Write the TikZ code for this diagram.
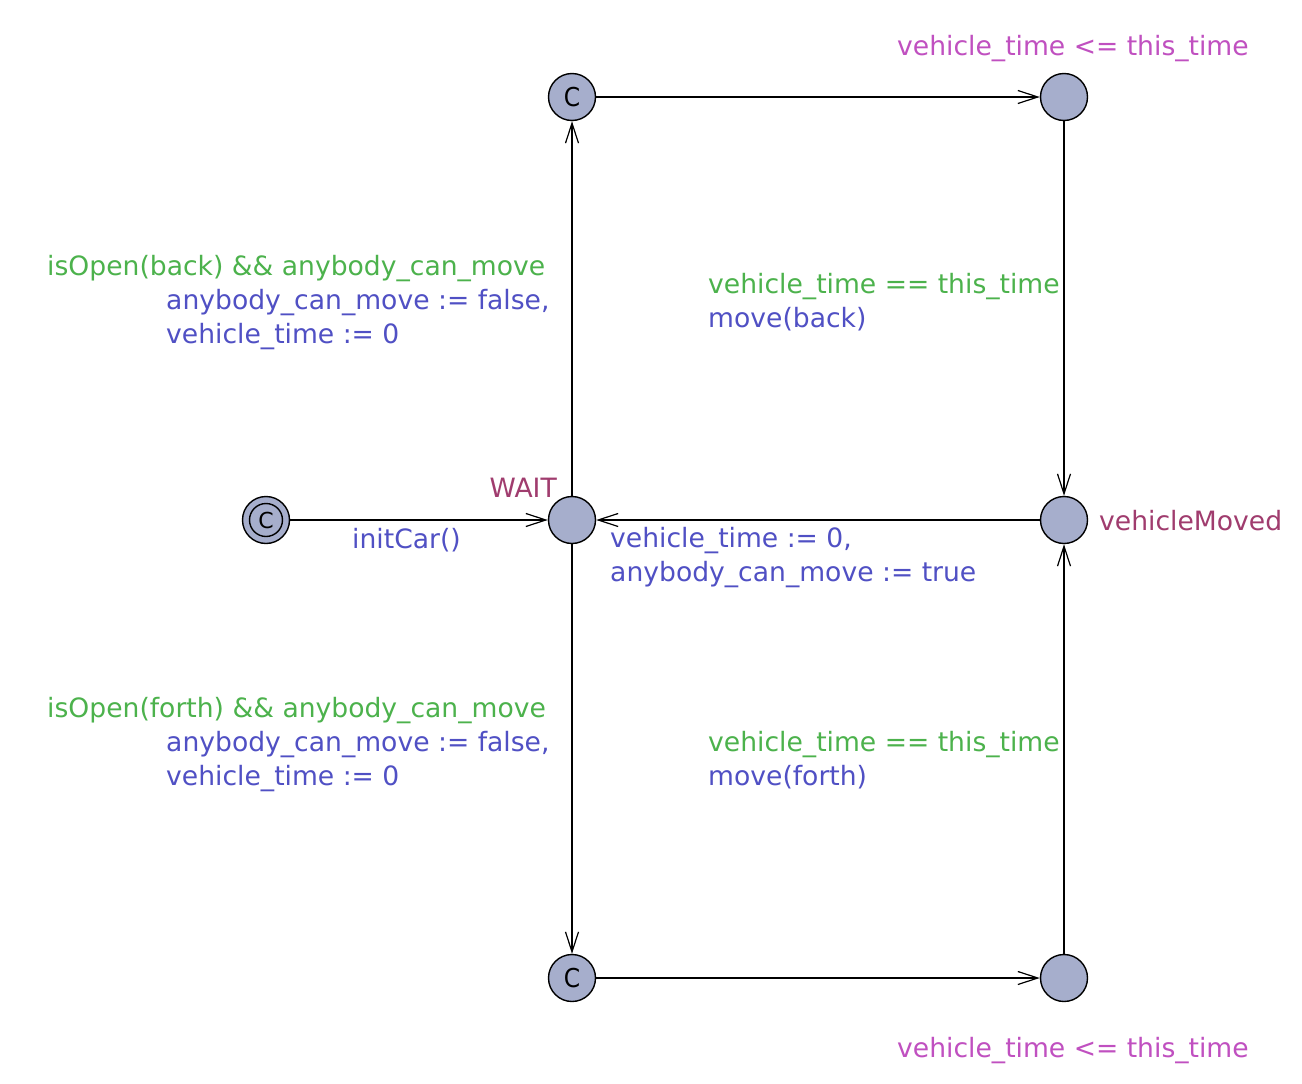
\documentclass[tikz,border=0pt]{standalone}
\usepackage{fontspec}
\setmainfont{DejaVu Sans}
\usetikzlibrary{arrows.meta}
\definecolor{guardc}{RGB}{76,178,76}
\definecolor{assignc}{RGB}{80,80,196}
\definecolor{invc}{RGB}{192,80,192}
\definecolor{namec}{RGB}{160,60,110}
\definecolor{locfill}{RGB}{166,174,204}
\tikzset{
  loc/.style={circle,draw=black,fill=locfill,line width=1.4pt,minimum size=47pt,inner sep=0pt},
  edge/.style={draw=black,line width=1.4pt,-{Straight Barb[length=20pt,width=13pt,line width=1.2pt]}},
  lbl/.style={anchor=mid west,inner sep=0pt,font=\fontsize{26.6}{30}\selectfont},
  guard/.style={lbl,text=guardc},
  assign/.style={lbl,text=assignc},
  inv/.style={lbl,text=invc},
  lname/.style={lbl,text=namec},
  cfont/.style={font=\fontsize{26}{26}\selectfont\addfontfeatures{FakeStretch=0.9}}
}
\begin{document}
\begin{tikzpicture}[x=1pt,y=-1pt]
\useasboundingbox[fill=white] (0,0) rectangle (1302,1084);
\node[loc] (init) at (266,520) {};
\node[circle,draw=black,line width=1.4pt,minimum size=33pt,inner sep=0pt,font=\fontsize{22}{22}\selectfont] (initc) at (266,520) {C};
\node[loc] (wait) at (572,520) {};
\node[loc,cfont] (ctop) at (572,97) {C};
\node[loc] (tr) at (1064,97) {};
\node[loc] (vm) at (1064,520) {};
\node[loc,cfont] (cbot) at (572,978) {C};
\node[loc] (br) at (1064,978) {};

\draw[edge] (init) -- (wait);
\draw[edge] (wait) -- (ctop);
\draw[edge] (ctop) -- (tr);
\draw[edge] (tr) -- (vm);
\draw[edge] (vm) -- (wait);
\draw[edge] (wait) -- (cbot);
\draw[edge] (cbot) -- (br);
\draw[edge] (br) -- (vm);

\node[inv] (inv1) at (897,53) {vehicle\_time <= this\_time};
\node[inv] (inv2) at (897,1055) {vehicle\_time <= this\_time};
\node[lname,anchor=mid east] (waitname) at (557,495) {WAIT};
\node[lname] (vmname) at (1099,528) {vehicleMoved};

\node[guard] (g1) at (47,273) {isOpen(back) \&\& anybody\_can\_move};
\node[assign] (a1a) at (166,307) {anybody\_can\_move := false,};
\node[assign] (a1b) at (166,341) {vehicle\_time := 0};
\node[guard] (g2) at (708,291) {vehicle\_time == this\_time};
\node[assign] (a2) at (708,325) {move(back)};
\node[assign] (a3) at (352,546) {initCar()};
\node[assign] (a4a) at (610,545) {vehicle\_time := 0,};
\node[assign] (a4b) at (610,579) {anybody\_can\_move := true};
\node[guard] (g5) at (47,715) {isOpen(forth) \&\& anybody\_can\_move};
\node[assign] (a5a) at (166,749) {anybody\_can\_move := false,};
\node[assign] (a5b) at (166,783) {vehicle\_time := 0};
\node[guard] (g6) at (708,749) {vehicle\_time == this\_time};
\node[assign] (a6) at (708,783) {move(forth)};
\end{tikzpicture}
\end{document}
